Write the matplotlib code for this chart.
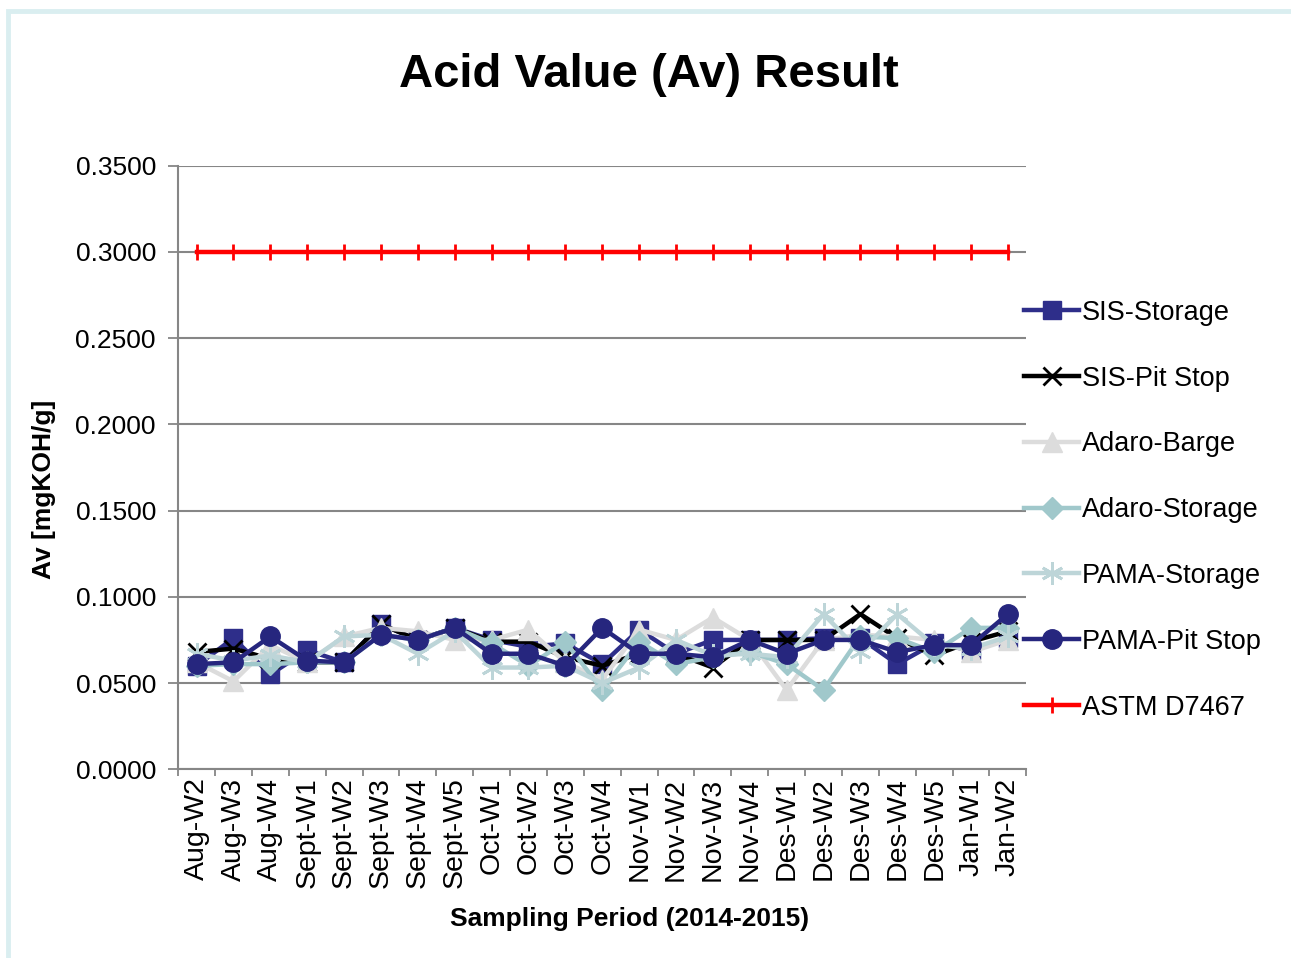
import numpy as np
import matplotlib
matplotlib.use("Agg")
import matplotlib.pyplot as plt
from matplotlib.patches import Rectangle

plt.rcParams['font.family'] = ['Liberation Sans', 'DejaVu Sans']

# Sampling weeks
weeks = ['Aug-W2', 'Aug-W3', 'Aug-W4', 'Sept-W1', 'Sept-W2', 'Sept-W3', 'Sept-W4',
         'Sept-W5', 'Oct-W1', 'Oct-W2', 'Oct-W3', 'Oct-W4', 'Nov-W1', 'Nov-W2',
         'Nov-W3', 'Nov-W4', 'Des-W1', 'Des-W2', 'Des-W3', 'Des-W4', 'Des-W5',
         'Jan-W1', 'Jan-W2']

# Acid values (mgKOH/g)
sis_storage = [0.060, 0.076, 0.055, 0.069, 0.062, 0.084, 0.075, 0.082, 0.075, 0.071,
               0.073, 0.061, 0.081, 0.067, 0.075, 0.075, 0.075, 0.076, 0.076, 0.061,
               0.073, 0.069, 0.076]
sis_pit = [0.068, 0.070, 0.064, 0.062, 0.062, 0.084, 0.075, 0.082, 0.074, 0.074,
           0.065, 0.060, 0.067, 0.067, 0.059, 0.075, 0.075, 0.075, 0.090, 0.076,
           0.066, 0.074, 0.080]
adaro_barge = [0.062, 0.051, 0.072, 0.062, 0.077, 0.082, 0.080, 0.075, 0.075, 0.081,
               0.062, 0.052, 0.081, 0.075, 0.088, 0.075, 0.046, 0.075, 0.078, 0.077,
               0.075, 0.068, 0.075]
adaro_storage = [0.060, 0.061, 0.061, 0.062, 0.062, 0.078, 0.075, 0.082, 0.073, 0.060,
                 0.074, 0.046, 0.074, 0.061, 0.065, 0.068, 0.061, 0.046, 0.077, 0.076,
                 0.068, 0.082, 0.082]
pama_storage = [0.067, 0.063, 0.066, 0.062, 0.077, 0.078, 0.067, 0.080, 0.059, 0.059,
                0.060, 0.050, 0.059, 0.075, 0.066, 0.067, 0.065, 0.090, 0.068, 0.090,
                0.072, 0.070, 0.077]
pama_pit = [0.061, 0.062, 0.077, 0.063, 0.062, 0.078, 0.075, 0.082, 0.067, 0.067,
            0.060, 0.082, 0.067, 0.067, 0.065, 0.075, 0.067, 0.075, 0.075, 0.068,
            0.072, 0.072, 0.090]
astm_limit = [0.300] * len(weeks)

x = np.arange(len(weeks))

fig = plt.figure(figsize=(12.91, 9.58), dpi=100)
ax = fig.add_axes([0.138, 0.197, 0.657, 0.630])

ax.plot(x, sis_storage, color='#2E2E8A', lw=3.2, marker='s', ms=13, label='SIS-Storage')
ax.plot(x, sis_pit, color='black', lw=3.2, marker='x', ms=13, mew=2, label='SIS-Pit Stop')
ax.plot(x, adaro_barge, color='#DCDCDC', lw=3.2, marker='^', ms=14, label='Adaro-Barge')
ax.plot(x, adaro_storage, color='#A0C8CB', lw=3.2, marker='D', ms=11, label='Adaro-Storage')
ax.plot(x, pama_storage, color='#BDD5D8', lw=3.2, marker=(6, 2, 0), ms=16, mew=2,
        label='PAMA-Storage')
ax.plot(x, pama_pit, color='#26267E', lw=3.2, marker='o', ms=14, label='PAMA-Pit Stop')
ax.plot(x, astm_limit, color='#FF0000', lw=3.2, marker='|', ms=12, mew=2, label='ASTM D7467')

ax.set_xlim(-0.5, len(weeks) - 0.5)
ax.set_ylim(0, 0.35)
ax.set_yticks(np.arange(0, 0.351, 0.05))
ax.set_yticklabels([f'{v:.4f}' for v in np.arange(0, 0.351, 0.05)])
ax.set_xticks(x)
ax.set_xticklabels(weeks, rotation=90)
ax.set_xticks(np.arange(-0.5, len(weeks), 1), minor=True)
ax.tick_params(axis='x', which='major', length=0, labelsize=20.5, pad=6)
ax.tick_params(axis='x', which='minor', length=5, color='#868686', width=1.3)
ax.tick_params(axis='y', length=7, color='#868686', width=1.3, labelsize=19, pad=9)

ax.grid(axis='y', color='#868686', lw=1.5)
ax.set_axisbelow(True)
for s in ['top', 'right']:
    ax.spines[s].set_visible(False)
for s in ['left', 'bottom']:
    ax.spines[s].set_color('#868686')
    ax.spines[s].set_linewidth(1.5)

ax.set_ylabel('Av [mgKOH/g]', fontsize=19, fontweight='bold')
ax.yaxis.set_label_coords(-0.144, 0.464)
ax.set_xlabel('Sampling Period (2014-2015)', fontsize=19, fontweight='bold')
ax.xaxis.set_label_coords(0.532, -0.229)
fig.text(0.503, 0.922, 'Acid Value (Av) Result', fontsize=34, fontweight='bold',
         ha='center', va='center')

leg = ax.legend(loc='upper left', bbox_to_anchor=(0.985, 0.796), frameon=False,
                fontsize=19.5, handlelength=2.0, handletextpad=0.12, labelspacing=1.47,
                borderaxespad=0)

# light frame round the chart area
fig.patches.append(Rectangle((0.0062, -0.1), 1.1, 1.088, transform=fig.transFigure,
                             fill=False, edgecolor='#DAEEF0', lw=3.5))

fig.savefig('out.png', dpi=100)
